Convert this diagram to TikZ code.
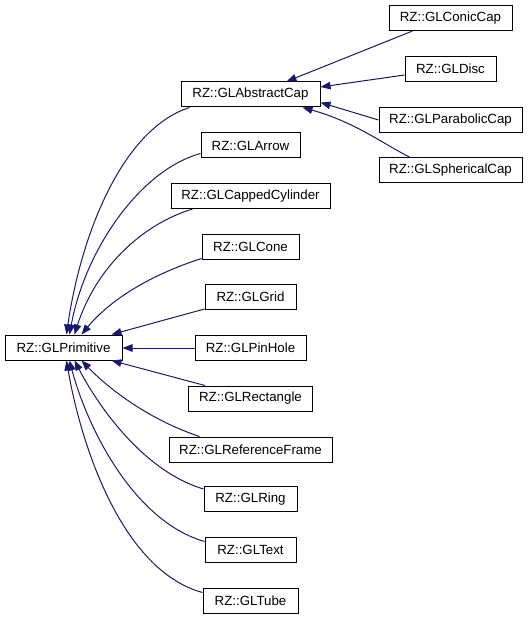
\documentclass[tikz,border=0pt]{standalone}
\usepackage{fontspec}
\setmainfont{Liberation Sans}
\usetikzlibrary{arrows.meta}
\definecolor{edgeblue}{HTML}{191970}
\begin{document}
\begin{tikzpicture}[x=1pt,y=-1pt,
  box/.style={draw=black, line width=1pt, fill=white, minimum height=25pt, inner sep=0pt,
    font=\fontsize{13.3}{16}\selectfont, text=black},
  edge/.style={draw=edgeblue, line width=1pt, -{Triangle[length=10pt,width=7.5pt]}, edgeblue}]
\useasboundingbox (0,0) rectangle (528,620);
% nodes
\node[box, minimum width=117pt] (prim) at (63.5,347.5) {RZ::GLPrimitive};
\node[box, minimum width=139pt] (abs) at (250.5,94.5) {RZ::GLAbstractCap};
\node[box, minimum width=123pt] (conic) at (450.5,18) {RZ::GLConicCap};
\node[box, minimum width=91pt] (disc) at (450.5,69) {RZ::GLDisc};
\node[box, minimum width=143pt] (parab) at (450.5,120) {RZ::GLParabolicCap};
\node[box, minimum width=143pt] (spher) at (450.5,170) {RZ::GLSphericalCap};
\node[box, minimum width=99pt] (arrow) at (250.5,145.5) {RZ::GLArrow};
\node[box, minimum width=159pt] (capcyl) at (250.5,196) {RZ::GLCappedCylinder};
\node[box, minimum width=97pt] (cone) at (250.5,246.5) {RZ::GLCone};
\node[box, minimum width=91pt] (grid) at (250.5,297) {RZ::GLGrid};
\node[box, minimum width=111pt] (pin) at (250.5,348) {RZ::GLPinHole};
\node[box, minimum width=124pt] (rect) at (250.5,398.5) {RZ::GLRectangle};
\node[box, minimum width=163pt] (ref) at (250.5,449.5) {RZ::GLReferenceFrame};
\node[box, minimum width=93pt] (ring) at (250.5,499) {RZ::GLRing};
\node[box, minimum width=91pt] (txt) at (250.5,549.5) {RZ::GLText};
\node[box, minimum width=95pt] (tube) at (250.5,600.5) {RZ::GLTube};
% edges into GLAbstractCap
\draw[edge] ([xshift=24pt]conic.south west) -- ([xshift=106pt]abs.north west);
\draw[edge] ([yshift=7pt]disc.south west) -- ([yshift=7.5pt]abs.east);
\draw[edge] (parab.west) -- ([yshift=-8pt]abs.east);
\draw[edge] ([xshift=31pt]spher.north west) .. controls (385,145) and (355,122) .. ([xshift=122pt]abs.south west);
% edges into GLPrimitive (upper)
\draw[edge] ([xshift=9pt]abs.south west) .. controls (120,130) and (80,240) .. ([xshift=62pt]prim.north west);
\draw[edge] ([yshift=5pt]arrow.south west) .. controls (140,170) and (85,250) .. ([xshift=65pt]prim.north west);
\draw[edge] ([xshift=22pt]capcyl.south west) .. controls (140,225) and (95,270) .. ([xshift=70pt]prim.north west);
\draw[edge] ([yshift=1pt]cone.south west) .. controls (150,275) and (110,300) .. ([xshift=77pt]prim.north west);
\draw[edge] ([yshift=1pt]grid.south west) -- ([xshift=107pt]prim.north west);
\draw[edge] (pin.west) -- ([yshift=-0.5pt]prim.east);
% edges into GLPrimitive (lower)
\draw[edge] ([xshift=17pt]rect.north west) -- ([xshift=107pt]prim.south west);
\draw[edge] ([xshift=31pt]ref.north west) .. controls (150,420) and (110,390) .. ([xshift=77pt]prim.south west);
\draw[edge] ([yshift=-3pt]ring.north west) .. controls (140,470) and (95,400) .. ([xshift=70pt]prim.south west);
\draw[edge] ([yshift=-5pt]txt.north west) .. controls (130,520) and (85,420) .. ([xshift=65pt]prim.south west);
\draw[edge] ([yshift=-5pt]tube.north west) .. controls (120,570) and (80,440) .. ([xshift=62pt]prim.south west);
\end{tikzpicture}
\end{document}
